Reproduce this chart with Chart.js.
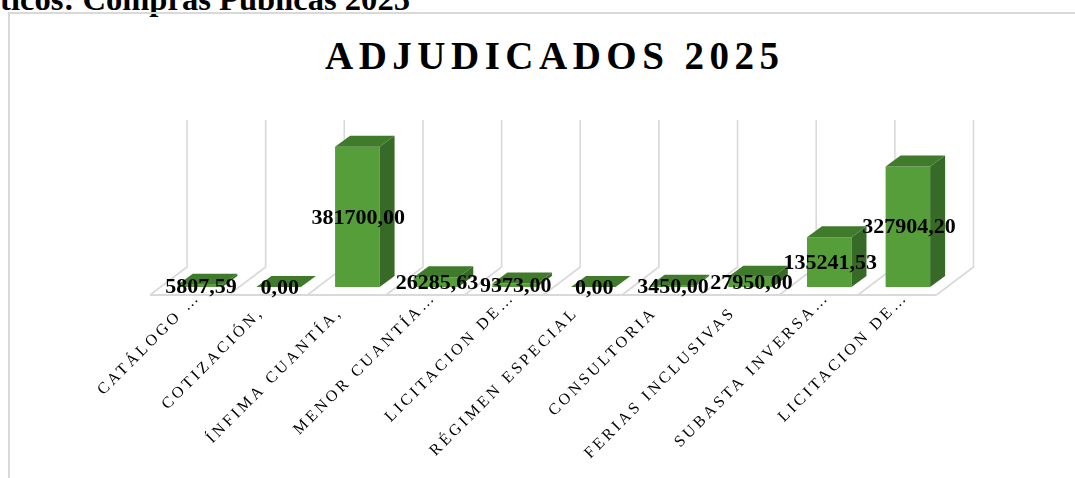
<!DOCTYPE html>
<html>
<head>
<meta charset="utf-8">
<script src="https://cdn.jsdelivr.net/npm/chart.js@4.4.1/dist/chart.umd.min.js"></script>
<style>
html,body{margin:0;padding:0;width:1075px;height:478px;overflow:hidden;background:#fff;position:relative}
#heading{position:absolute;right:665px;top:-17px;font:bold 32.6px "Liberation Serif",serif;line-height:32px;white-space:nowrap;color:#000}
#frame{position:absolute;left:8px;top:12px;width:1200px;height:600px;border:2px solid #d9d9d9;box-sizing:border-box}
#title{position:absolute;left:325px;top:36px;font:bold 39px "Liberation Serif",serif;line-height:39px;letter-spacing:5.5px;white-space:nowrap;color:#000}
#wrap{position:absolute;left:0;top:0;width:1075px;height:478px}
</style>
</head>
<body>
<div id="heading">Datos Estadísticos: Compras Públicas 2025</div>
<div id="frame"></div>
<div id="title">ADJUDICADOS 2025</div>
<div id="wrap"><canvas id="c" width="1075" height="478"></canvas></div>
<script>
// ---- data ----
const categories = ["CATÁLOGO …", "COTIZACIÓN,", "ÍNFIMA CUANTÍA,", "MENOR CUANTÍA…", "LICITACION DE…", "RÉGIMEN ESPECIAL", "CONSULTORIA", "FERIAS INCLUSIVAS", "SUBASTA INVERSA…", "LICITACION DE…"];
const adjudicados = [5807.59, 0, 381700, 26285.63, 9373, 0, 3450, 27950, 135241.53, 327904.2];
const yMin = 0;
const yMax = 400000;

// ---- style ----
const FRONT = '#559e3a';
const TOP = '#3f7b2b';
const SIDE = '#376a26';
const GRID = '#d9d9d9';
const DEPTH = {dx: 15, dy: -11};        // bar depth projection
const BACK = {dx: 26.3, dy: -20};       // front plane -> back wall
const FLOORFRONT = {dx: -10.7, dy: 8};  // front plane -> floor front edge
const TICK_SPACING = '3.2px';

function fmt(v){ return v.toFixed(2).replace('.', ','); }

const spacingPlugin = {
  id: 'spacing',
  beforeUpdate(chart){ chart.ctx.letterSpacing = TICK_SPACING; },
  beforeLayout(chart){ chart.ctx.letterSpacing = TICK_SPACING; },
  beforeDraw(chart){ chart.ctx.letterSpacing = TICK_SPACING; }
};

const wallPlugin = {
  id: 'wall',
  beforeDatasetsDraw(chart){
    const {ctx, chartArea: a, scales: {x}} = chart;
    const n = categories.length;
    const step = (x.getPixelForValue(1) - x.getPixelForValue(0));
    ctx.save();
    ctx.letterSpacing = '0px';
    ctx.strokeStyle = GRID;
    ctx.lineWidth = 1.6;
    for (let i = 0; i <= n; i++) {
      const xb = x.getPixelForValue(0) - step / 2 + i * step;
      ctx.beginPath();
      ctx.moveTo(xb + BACK.dx, a.top + BACK.dy);
      ctx.lineTo(xb + BACK.dx, a.bottom + BACK.dy);
      ctx.lineTo(xb + FLOORFRONT.dx, a.bottom + FLOORFRONT.dy);
      ctx.stroke();
    }
    ctx.lineWidth = 2;
    ctx.beginPath();
    ctx.moveTo(a.left + FLOORFRONT.dx, a.bottom + FLOORFRONT.dy);
    ctx.lineTo(a.right + FLOORFRONT.dx, a.bottom + FLOORFRONT.dy);
    ctx.stroke();
    ctx.restore();
  },
  afterDatasetsDraw(chart){
    const {ctx} = chart;
    const meta = chart.getDatasetMeta(0);
    ctx.save();
    ctx.letterSpacing = '0px';
    meta.data.forEach(el => {
      const p = el.getProps(['x', 'y', 'base', 'width'], true);
      const x0 = p.x - p.width / 2, x1 = p.x + p.width / 2;
      const yt = Math.min(p.y, p.base), yb = Math.max(p.y, p.base);
      ctx.fillStyle = SIDE;
      ctx.beginPath();
      ctx.moveTo(x1, yt); ctx.lineTo(x1 + DEPTH.dx, yt + DEPTH.dy);
      ctx.lineTo(x1 + DEPTH.dx, yb + DEPTH.dy); ctx.lineTo(x1, yb);
      ctx.closePath(); ctx.fill();
      ctx.fillStyle = TOP;
      ctx.beginPath();
      ctx.moveTo(x0, yt); ctx.lineTo(x1, yt);
      ctx.lineTo(x1 + DEPTH.dx, yt + DEPTH.dy); ctx.lineTo(x0 + DEPTH.dx, yt + DEPTH.dy);
      ctx.closePath(); ctx.fill();
    });
    ctx.fillStyle = '#000';
    ctx.font = 'bold 22px "Liberation Serif", serif';
    ctx.textAlign = 'center';
    ctx.textBaseline = 'middle';
    meta.data.forEach((el, i) => {
      const p = el.getProps(['x', 'y', 'base'], true);
      ctx.fillText(fmt(adjudicados[i]), p.x + 1, (p.y + p.base) / 2 + 1);
    });
    ctx.restore();
  }
};

new Chart(document.getElementById('c'), {
  type: 'bar',
  data: {
    labels: categories,
    datasets: [{
      label: 'ADJUDICADOS 2025',
      data: adjudicados,
      backgroundColor: FRONT,
      borderWidth: 0,
      barPercentage: 0.566,
      categoryPercentage: 1
    }]
  },
  options: {
    responsive: false,
    animation: false,
    devicePixelRatio: 1,
    layout: {padding: {left: 160.7, right: 127.8, top: 140, bottom: 0}},
    plugins: {legend: {display: false}, tooltip: {enabled: false}, title: {display: false}},
    scales: {
      x: {
        offset: true,
        grid: {display: false, drawTicks: false},
        border: {display: false},
        ticks: {
          autoSkip: false,
          minRotation: 45,
          maxRotation: 45,
          padding: 1,
          labelOffset: -2,
          color: '#000',
          font: {family: '"Liberation Serif", serif', size: 16},
          callback: function(v, i){ const l = categories[i]; return l.endsWith('…') ? l : l + '   '; }
        },
        afterFit(scale){ scale.height = 191; }
      },
      y: {
        display: false,
        min: yMin,
        max: yMax
      }
    }
  },
  plugins: [spacingPlugin, wallPlugin]
});
</script>
</body>
</html>
